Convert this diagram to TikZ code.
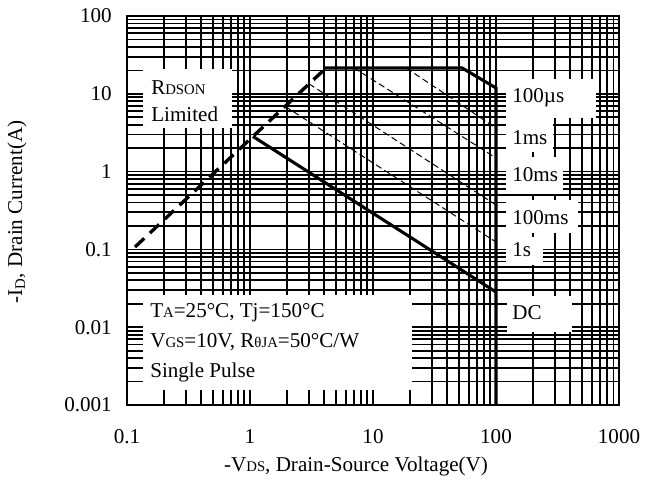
\documentclass[tikz,border=0pt]{standalone}
\usepackage{fontspec}
\setmainfont{Liberation Serif}
\newcommand{\sm}[1]{{\fontsize{10.5}{10.5}\selectfont #1}}

\begin{document}
\begin{tikzpicture}[x=3.075cm, y=1.945cm,
    gridline/.style={line width=1.25pt},
    txt/.style={font=\fontsize{15}{18}\selectfont, inner sep=0pt},
    lbl/.style={txt, anchor=west},
    bound/.style={line width=2.2pt},
    pulse/.style={line width=0.7pt, dash pattern=on 4.5pt off 2.5pt}]

    \useasboundingbox (-1.0325,-1.0411) rectangle (4.2195,5.2057);

    % Log grid, one decade per unit
    \foreach \d in {0,...,3}
      \foreach \k in {1,...,9}
        \draw[gridline] ({\d+log10(\k)},0) -- ({\d+log10(\k)},5);
    \foreach \d in {0,...,4}
      \foreach \k in {1,...,9}
        \draw[gridline] (0,{\d+log10(\k)}) -- (4,{\d+log10(\k)});
    \draw[gridline] (0,0) rectangle (4,5);

    % White label boxes
    \fill[white] (0.130,3.560) rectangle (0.854,4.319);
    \fill[white] (0.130,0.193) rectangle (2.317,1.414);
    \fill[white] (3.081,3.689) rectangle (3.813,4.190);
    \fill[white] (3.081,3.252) rectangle (3.463,3.689);
    \fill[white] (3.081,2.712) rectangle (3.545,3.188);
    \fill[white] (3.081,2.211) rectangle (3.667,2.635);
    \fill[white] (3.081,1.799) rectangle (3.382,2.159);
    \fill[white] (3.089,0.938) rectangle (3.618,1.401);

    % Limit lines
    \coordinate (rds0) at (0.065,2.031);
    \coordinate (rds1) at (1.618,4.332);
    \coordinate (lim0) at (1.602,4.332);
    \coordinate (lim1) at (2.724,4.332);
    \coordinate (kink) at (3.000,4.075);
    \coordinate (foot) at (3.000,0);
    \draw[line width=2.4pt, dash pattern=on 9pt off 5.5pt] (rds0) -- (rds1);
    \draw[bound] (lim0) -- (lim1) -- (kink) -- (foot);

    % DC line
    \coordinate (dc0) at (1.024,3.452);
    \coordinate (dc1) at (3.000,1.452);
    \draw[bound] (dc0) -- (dc1);

    % Pulse lines
    \draw[pulse] (2.270,4.332) -- (3.000,3.560);
    \draw[pulse] (1.846,4.332) -- (3.000,3.175);
    \draw[pulse] (1.480,4.128) -- (3.000,2.571);
    \draw[pulse] (1.285,3.839) -- (3.000,2.095);

    % Text
    \node[lbl, align=left, font=\fontsize{15}{19}\selectfont] (rdson) at (0.195,3.901)
        {R\sm{DSON}\\Limited};
    \node[lbl, align=left, font=\fontsize{15}{21}\selectfont] (cond) at (0.187,0.800)
        {T\sm{A}=25°C, Tj=150°C\\V\sm{GS}=10V, R\sm{θJA}=50°C/W\\Single Pulse};
    \node[lbl] (t100us) at (3.130,3.946) {100µs};
    \node[lbl] (t1ms) at (3.130,3.432) {1ms};
    \node[lbl] (t10ms) at (3.130,2.956) {10ms};
    \node[lbl] (t100ms) at (3.130,2.404) {100ms};
    \node[lbl] (t1s) at (3.130,1.992) {1s};
    \node[lbl] (tdc) at (3.130,1.183) {DC};

    % Axes
    \foreach \v/\t in {0/0.1,1/1,2/10,3/100,4/1000}
      \node[txt, yshift=-0.8cm] (x\v) at (\v,0) {\t};
    \foreach \v/\t in {0/0.001,1/0.01,2/0.1,3/1,4/10,5/100}
      \node[txt, anchor=east, xshift=-0.375cm] (y\v) at (0,\v) {\t};
    \node[txt] (xtitle) at (1.862,-0.784) {-V\sm{DS}, Drain-Source Voltage(V)};
    \node[txt, rotate=90] (ytitle) at (-0.894,2.481) {-I\textsubscript{D}, Drain Current(A)};

\end{tikzpicture}
\end{document}
